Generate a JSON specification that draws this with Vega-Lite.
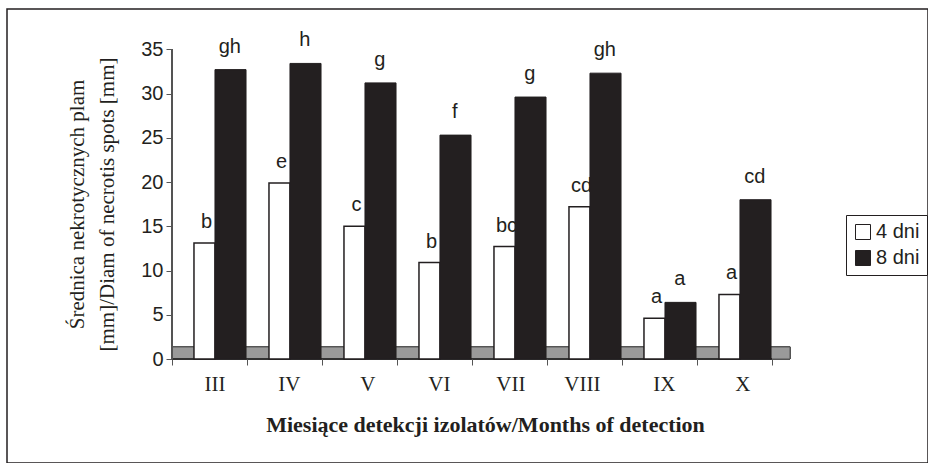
{
  "$schema": "https://vega.github.io/schema/vega-lite/v6.json",
  "width": 921,
  "height": 454,
  "autosize": {"type": "none"},
  "padding": {"left": 7, "top": 9, "right": 0, "bottom": 0},
  "background": "white",
  "config": {
    "view": {"stroke": "#231f20", "strokeWidth": 1.5},
    "font": "Liberation Sans"
  },
  "data": {
    "values": [
      {"month": "III", "series": "4 dni", "value": 13.1, "label": "b"},
      {"month": "III", "series": "8 dni", "value": 32.7, "label": "gh"},
      {"month": "IV", "series": "4 dni", "value": 19.9, "label": "e"},
      {"month": "IV", "series": "8 dni", "value": 33.4, "label": "h"},
      {"month": "V", "series": "4 dni", "value": 15.0, "label": "c"},
      {"month": "V", "series": "8 dni", "value": 31.2, "label": "g"},
      {"month": "VI", "series": "4 dni", "value": 10.9, "label": "b"},
      {"month": "VI", "series": "8 dni", "value": 25.3, "label": "f"},
      {"month": "VII", "series": "4 dni", "value": 12.7, "label": "bc"},
      {"month": "VII", "series": "8 dni", "value": 29.6, "label": "g"},
      {"month": "VIII", "series": "4 dni", "value": 17.2, "label": "cd"},
      {"month": "VIII", "series": "8 dni", "value": 32.3, "label": "gh"},
      {"month": "IX", "series": "4 dni", "value": 4.6, "label": "a"},
      {"month": "IX", "series": "8 dni", "value": 6.4, "label": "a"},
      {"month": "X", "series": "4 dni", "value": 7.3, "label": "a"},
      {"month": "X", "series": "8 dni", "value": 18.0, "label": "cd"}
    ]
  },
  "layer": [
    {
      "mark": {"type": "rect", "fill": "#9a9a9a", "stroke": "#555555", "strokeWidth": 1},
      "encoding": {
        "x": {"datum": "III", "type": "nominal", "bandPosition": 0},
        "x2": {"datum": "X", "bandPosition": 1.24},
        "y": {"datum": 0, "type": "quantitative"},
        "y2": {"datum": 1.36}
      }
    },
    {
      "mark": {"type": "rule", "stroke": "#333333", "strokeWidth": 1.5},
      "encoding": {
        "x": {"datum": "III", "type": "nominal", "bandPosition": 0},
        "x2": {"datum": "X", "bandPosition": 1},
        "y": {"datum": 0, "type": "quantitative"}
      }
    },
    {
      "mark": {"type": "rule", "stroke": "#555555", "strokeWidth": 1},
      "encoding": {
        "x": {"datum": "III", "type": "nominal", "bandPosition": 0},
        "y": {"datum": 0, "type": "quantitative"},
        "y2": {"datum": 35}
      }
    },
    {
      "transform": [{"filter": "datum.series == '4 dni'"}],
      "mark": {"type": "bar", "stroke": "#231f20", "strokeWidth": 1.5},
      "encoding": {
        "x": {
          "field": "month", "type": "nominal", "bandPosition": 0.293,
          "sort": ["III", "IV", "V", "VI", "VII", "VIII", "IX", "X"],
          "scale": {"type": "band", "domain": ["III", "IV", "V", "VI", "VII", "VIII", "IX", "X"], "range": [165, 765], "paddingInner": 0, "paddingOuter": 0},
          "axis": {
            "labelOffset": 15.5,
            "offset": -104, "domain": false, "grid": false, "tickBand": "extent", "tickSize": 6, "tickColor": "#555555",
            "labelFont": "Liberation Serif", "labelFontSize": 21, "labelPadding": 19, "labelAngle": 0, "labelColor": "#231f20",
            "title": "Miesiące detekcji izolatów/Months of detection",
            "titleFont": "Liberation Serif", "titleFontSize": 22, "titleFontWeight": "bold", "titleColor": "#231f20",
            "titleX": 478, "titleY": 65, "titleBaseline": "middle", "titleAlign": "center"
          }
        },
        "x2": {"field": "month", "bandPosition": 0.573},
        "y": {
          "field": "value", "type": "quantitative",
          "scale": {"domain": [-11.75, 39.55], "nice": false, "zero": false},
          "axis": {
            "values": [0, 5, 10, 15, 20, 25, 30, 35], "offset": -165, "domain": false, "grid": false,
            "tickSize": 6, "tickColor": "#555555",
            "labelFont": "Liberation Sans", "labelFontSize": 20, "labelColor": "#231f20", "labelPadding": 3,
            "title": ["Średnica nekrotycznych plam", "[mm]/Diam of necrotis spots [mm]"],
            "titleFont": "Liberation Serif", "titleFontSize": 21, "titleFontWeight": "normal", "titleColor": "#231f20",
            "titleAngle": -90, "titleX": -95, "titleY": 195, "titleBaseline": "middle", "titleAlign": "center", "titleLineHeight": 30
          }
        },
        "y2": {"datum": 0},
        "fill": {
          "field": "series", "type": "nominal",
          "scale": {"domain": ["4 dni", "8 dni"], "range": ["#ffffff", "#231f20"]},
          "legend": {
            "orient": "none", "legendX": 839, "legendY": 206, "title": null,
            "symbolType": "square", "symbolSize": 225, "symbolStrokeColor": "#231f20", "symbolStrokeWidth": 1,
            "labelFont": "Liberation Sans", "labelFontSize": 20, "labelColor": "#231f20", "labelOffset": 3,
            "strokeColor": "#231f20", "fillColor": "#ffffff", "padding": 7, "rowPadding": 6
          }
        }
      }
    },
    {
      "transform": [{"filter": "datum.series == '8 dni'"}],
      "mark": {"type": "bar", "stroke": "#231f20", "strokeWidth": 1},
      "encoding": {
        "x": {"field": "month", "type": "nominal", "bandPosition": 0.573},
        "x2": {"field": "month", "bandPosition": 0.987},
        "y": {"field": "value", "type": "quantitative"},
        "y2": {"datum": 0},
        "fill": {"field": "series", "type": "nominal"}
      }
    },
    {
      "transform": [{"filter": "datum.series == '4 dni'"}],
      "mark": {"type": "text", "baseline": "alphabetic", "align": "center", "dy": -15, "fontSize": 20, "font": "Liberation Sans", "fill": "#231f20"},
      "encoding": {
        "x": {"field": "month", "type": "nominal", "bandPosition": 0.46},
        "y": {"field": "value", "type": "quantitative"},
        "text": {"field": "label"}
      }
    },
    {
      "transform": [{"filter": "datum.series == '8 dni'"}],
      "mark": {"type": "text", "baseline": "alphabetic", "align": "center", "dy": -17, "fontSize": 20, "font": "Liberation Sans", "fill": "#231f20"},
      "encoding": {
        "x": {"field": "month", "type": "nominal", "bandPosition": 0.77},
        "y": {"field": "value", "type": "quantitative"},
        "text": {"field": "label"}
      }
    }
  ]
}
